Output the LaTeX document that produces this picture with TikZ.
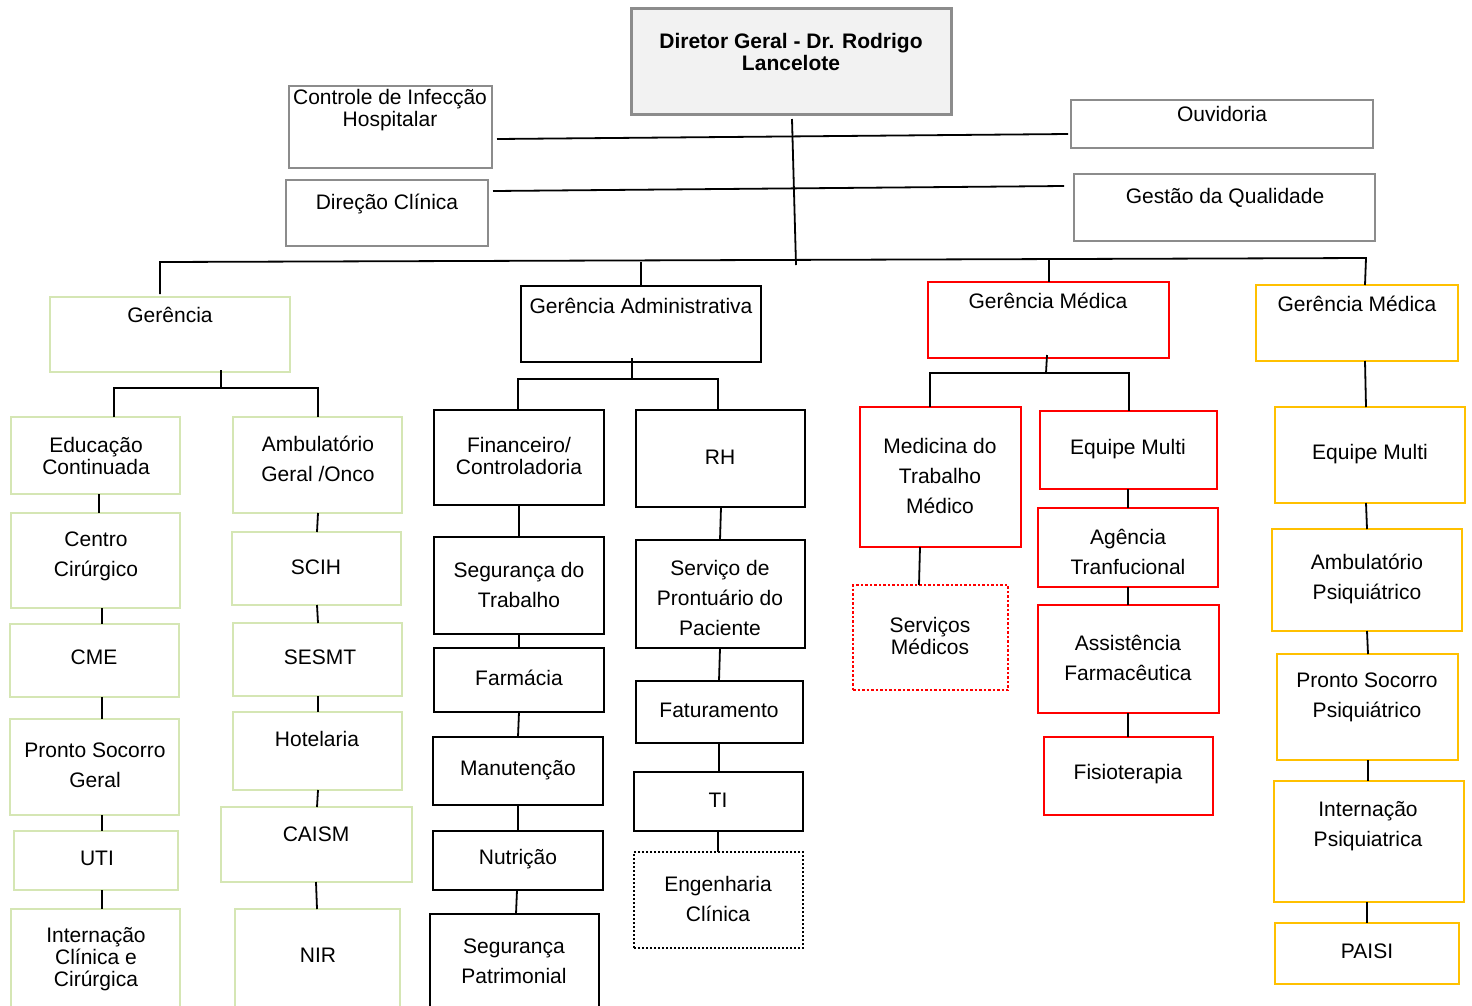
\documentclass[tikz,border=0pt]{standalone}
\usepackage{fontspec}
\setmainfont{Liberation Sans}
\usetikzlibrary{fit}
\definecolor{grn}{HTML}{D5E6B4}
\definecolor{gbord}{HTML}{8C8C8C}
\definecolor{dfill}{HTML}{F2F2F2}
\definecolor{yel}{HTML}{FFC000}
\definecolor{rd}{HTML}{FF0000}
\newcommand\cn[4]{\draw[conn] ([xshift=#2pt]#1.south) -- ([xshift=#4pt]#3.north);}
\begin{document}
\begin{tikzpicture}[x=1pt,y=-1pt,
 bx/.style={inner sep=0pt, outer sep=0pt, line width=2.5pt},
 gbox/.style={bx, draw=grn, line width=2.8pt},
 kbox/.style={bx, draw=black, line width=2.8pt},
 rbox/.style={bx, draw=rd, line width=2pt},
 ybox/.style={bx, draw=yel, line width=2.8pt},
 pbox/.style={bx, draw=gbord},
 conn/.style={line width=1.8pt, black},
 tx/.style={align=center, inner sep=0pt, font=\fontsize{21}{22}\selectfont},
 tl/.style={align=center, inner sep=0pt, font=\fontsize{21}{30}\selectfont},
]
\useasboundingbox (0,0) rectangle (1472,1005);
\fill[white] (0,0) rectangle (1472,1005);
\clip (0,0) rectangle (1472,1005);

% ---- top level boxes
\node[pbox, fill=dfill, line width=3pt, fit={(631,8) (951,114)}] (dir) {};
\node[pbox, fit={(289,86) (492,168)}] (cih) {};
\node[pbox, fit={(286,180) (488,246)}] (dc) {};
\node[pbox, fit={(1071,100) (1373,148)}] (ouv) {};
\node[pbox, fit={(1074,174) (1375,241)}] (gq) {};

\node[tx, font=\fontsize{21}{22}\selectfont\bfseries] (dir-t) at (791,51.5) {Diretor Geral - Dr. Rodrigo\\Lancelote};
\node[tx] (cih-t) at (390,110.5) {Controle de Infecção\\Hospitalar};
\node[tx] (dc-t) at (387,204) {Direção Clínica};
\node[tx] (ouv-t) at (1222,114) {Ouvidoria};
\node[tx] (gq-t) at (1225,198) {Gestão da Qualidade};

% ---- second level
\node[gbox, fit={(50,297) (290,372)}] (ger) {};
\node[kbox, fit={(521,286) (761,362)}] (ga) {};
\node[rbox, fit={(928,282) (1169,358)}] (gm) {};
\node[ybox, fit={(1256,285) (1458,361)}] (gy) {};
\node[tx] (ger-t) at (170,315) {Gerência};
\node[tx] (ga-t) at (641,306) {Gerência Administrativa};
\node[tx] (gm-t) at (1048,301) {Gerência Médica};
\node[tx] (gy-t) at (1357,304) {Gerência Médica};

% ---- top connectors
\coordinate (t2) at (796,265);
\draw[conn] ([xshift=1pt,yshift=-5pt]dir.south) -- (t2);
\draw[conn] ([xshift=5pt,yshift=-12pt]cih.east) -- ([xshift=-3pt,yshift=-10pt]ouv.west);
\draw[conn] ([xshift=5pt,yshift=22pt]dc.east) -- ([xshift=-10pt,yshift=21.5pt]gq.west);
\coordinate (bl) at (160,262);
\coordinate (br) at (1366,258);
\draw[conn] ([xshift=-10pt,yshift=3pt]ger.north) -- (bl) -- (br) -- ([xshift=8pt]gy.north);
\draw[conn] (ga.north) -- ++(0,-24);
\draw[conn] ([xshift=0.5pt]gm.north) -- ++(0,-22);

% ---- Gerencia (green) branch
\node[gbox, fit={(11,417) (180,494)}] (edu) {};
\node[gbox, fit={(11,513) (180,608)}] (cc) {};
\node[gbox, fit={(10,624) (179,697)}] (cme) {};
\node[gbox, fit={(10,719) (179,815)}] (psg) {};
\node[gbox, fit={(14,831) (178,890)}] (uti) {};
\node[gbox, fit={(11,909) (180,1020)}] (icc) {};
\node[gbox, fit={(233,417) (402,513)}] (amb) {};
\node[gbox, fit={(232,532) (401,605)}] (scih) {};
\node[gbox, fit={(233,623) (402,696)}] (sesmt) {};
\node[gbox, fit={(233,712) (402,790)}] (hot) {};
\node[gbox, fit={(221,807) (412,882)}] (caism) {};
\node[gbox, fit={(235,909) (400,1020)}] (nir) {};

\node[tx] (edu-t) at (96,455.5) {Educação\\Continuada};
\node[tl] (cc-t) at (96,556) {Centro\\Cirúrgico};
\node[tx] (cme-t) at (94,657) {CME};
\node[tl] (psg-t) at (95,765) {Pronto Socorro\\Geral};
\node[tx] (uti-t) at (97,858) {UTI};
\node[tx] (icc-t) at (96,959) {Internação\\Clínica e\\Cirúrgica};
\node[tl] (amb-t) at (318,459) {Ambulatório\\Geral /Onco};
\node[tx] (scih-t) at (316,567) {SCIH};
\node[tx] (sesmt-t) at (320,657) {SESMT};
\node[tx] (hot-t) at (317,739) {Hotelaria};
\node[tx] (caism-t) at (316,834) {CAISM};
\node[tx] (nir-t) at (318,955) {NIR};

\coordinate (gb) at (221,388);
\draw[conn] ([xshift=51pt,yshift=2pt]ger.south) -- (gb);
\draw[conn] ([xshift=18.5pt]edu.north) |- (gb) -| ([xshift=0.5pt]amb.north);
\cn{edu}{3.5}{cc}{3.5}
\cn{cc}{6.5}{cme}{7.5}
\cn{cme}{7.5}{psg}{7.5}
\cn{psg}{7.5}{uti}{6}
\cn{uti}{6}{icc}{6.5}
\cn{amb}{0.5}{scih}{0.5}
\cn{scih}{0.5}{sesmt}{0.5}
\cn{sesmt}{0.5}{hot}{0.5}
\cn{hot}{0.5}{caism}{0.5}
\cn{caism}{-0.5}{nir}{-0.5}

% ---- Gerencia Administrativa branch
\node[kbox, fit={(434,410) (604,505)}] (fin) {};
\node[kbox, fit={(434,537) (604,634)}] (seg) {};
\node[kbox, fit={(434,648) (604,712)}] (far) {};
\node[kbox, fit={(433,737) (603,805)}] (man) {};
\node[kbox, fit={(433,831) (603,890)}] (nut) {};
\node[kbox, fit={(430,914) (599,1020)}] (sp) {};
\node[kbox, fit={(636,410) (805,507)}] (rh) {};
\node[kbox, fit={(636,540) (805,648)}] (spp) {};
\node[kbox, fit={(636,681) (803,743)}] (fat) {};
\node[kbox, fit={(634,772) (803,831)}] (ti) {};
\node[bx, draw=black, line width=2pt, dotted, fit={(634,852) (803,948)}] (eng) {};

\node[tx] (fin-t) at (519,455.5) {Financeiro/\\Controladoria};
\node[tl] (seg-t) at (519,585) {Segurança do\\Trabalho};
\node[tx] (far-t) at (519,678) {Farmácia};
\node[tx] (man-t) at (518,770) {Manutenção};
\node[tx] (nut-t) at (518,859) {Nutrição};
\node[tl] (sp-t) at (514,961) {Segurança\\Patrimonial};
\node[tx] (rh-t) at (720,457) {RH};
\node[tl] (spp-t) at (720,598) {Serviço de\\Prontuário do\\Paciente};
\node[tx] (fat-t) at (719,710) {Faturamento};
\node[tx] (ti-t) at (718,800) {TI};
\node[tl] (eng-t) at (718,898.5) {Engenharia\\Clínica};

\coordinate (ab) at (632,379);
\draw[conn] ([xshift=-9pt,yshift=4pt]ga.south) -- (ab);
\draw[conn] ([xshift=-1pt]fin.north) |- (ab) -| ([xshift=-2.5pt]rh.north);
\cn{fin}{0}{seg}{0}
\cn{seg}{0}{far}{0}
\cn{far}{0}{man}{0}
\cn{man}{0}{nut}{0}
\cn{nut}{-1}{sp}{1.5}
\cn{rh}{0.5}{spp}{-0.5}
\cn{spp}{-0.5}{fat}{-0.5}
\cn{fat}{-0.5}{ti}{0.5}
\cn{ti}{-0.5}{eng}{-0.5}

% ---- Gerencia Medica (red) branch
\node[rbox, fit={(860,407) (1021,547)}] (mtm) {};
\node[bx, draw=rd, line width=2.5pt, dotted, fit={(853,585) (1008,690)}] (sm) {};
\node[rbox, fit={(1040,411) (1217,489)}] (em) {};
\node[rbox, line width=2.5pt, fit={(1038,508) (1218,587)}] (at) {};
\node[rbox, line width=2.5pt, fit={(1038,605) (1219,713)}] (af) {};
\node[rbox, line width=2.5pt, fit={(1044,737) (1213,815)}] (fis) {};

\node[tl] (mtm-t) at (940,475.5) {Medicina do\\Trabalho\\Médico};
\node[tx] (sm-t) at (930,635.5) {Serviços\\Médicos};
\node[tx] (em-t) at (1128,449) {Equipe Multi};
\node[tl] (at-t) at (1128,551.5) {Agência\\Tranfucional};
\node[tl] (af-t) at (1128,657.5) {Assistência\\Farmacêutica};
\node[tx] (fis-t) at (1128,774) {Fisioterapia};

\coordinate (mb) at (1046,373);
\draw[conn] ([xshift=-1.5pt,yshift=3pt]gm.south) -- (mb);
\draw[conn] ([xshift=-10.5pt]mtm.north) |- (mb) -| ([xshift=0.5pt]em.north);
\cn{mtm}{-20.5}{sm}{-11.5}
\cn{em}{-0.5}{at}{0}
\cn{at}{0}{af}{-0.5}
\cn{af}{-0.5}{fis}{-0.5}

% ---- Gerencia Medica (yellow) branch
\node[ybox, fit={(1275,407) (1465,503)}] (emy) {};
\node[ybox, fit={(1272,529) (1462,631)}] (ap) {};
\node[ybox, fit={(1277,654) (1458,760)}] (psp) {};
\node[ybox, fit={(1274,781) (1464,902)}] (ip) {};
\node[ybox, fit={(1275,923) (1459,984)}] (paisi) {};

\node[tx] (emy-t) at (1370,454) {Equipe Multi};
\node[tl] (ap-t) at (1367,579) {Ambulatório\\Psiquiátrico};
\node[tl] (psp-t) at (1367,697) {Pronto Socorro\\Psiquiátrico};
\node[tl] (ip-t) at (1368,826) {Internação\\Psiquiatrica};
\node[tx] (paisi-t) at (1367,951.5) {PAISI};

\cn{gy}{8}{emy}{-4}
\cn{emy}{-4}{ap}{0}
\cn{ap}{0}{psp}{0.5}
\cn{psp}{0.5}{ip}{-1}
\cn{ip}{-2}{paisi}{0}
\end{tikzpicture}
\end{document}
